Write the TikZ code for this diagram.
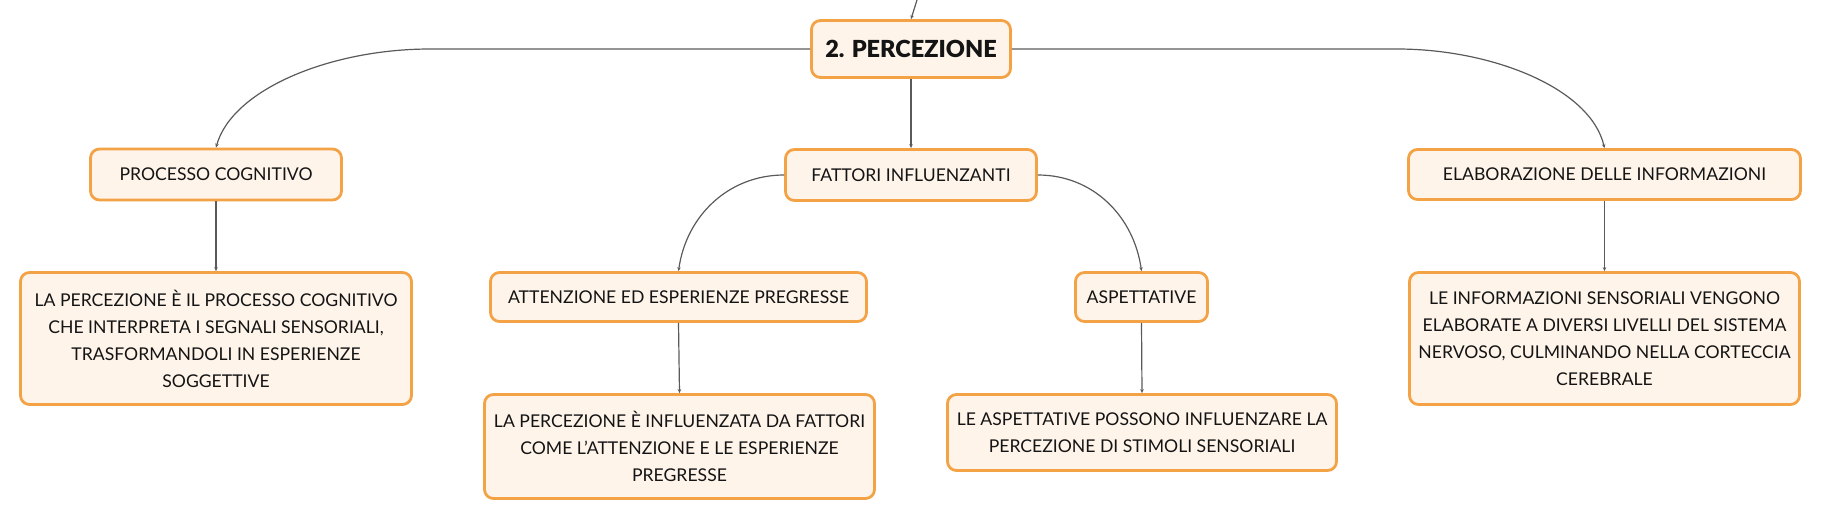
\documentclass[tikz,border=0pt]{standalone}
\usepackage{fontspec}
\setmainfont{Lato}[BoldFont={Lato Black}]
\usepackage{tikz}
\usetikzlibrary{arrows.meta}
\usetikzlibrary{positioning}
\definecolor{boxfill}{HTML}{FEF4EA}
\definecolor{boxline}{HTML}{F4A246}
\definecolor{linkgray}{HTML}{5A5A5A}

\begin{document}
\begin{tikzpicture}[x=1pt,y=1pt,
  box/.style={draw=boxline, fill=boxfill, line width=2.8pt, rounded corners=9pt, inner sep=0pt, align=center, text=black!92, font=\fontsize{17.6}{27}\selectfont},
  root/.style={box, font=\fontsize{23.5}{28}\selectfont\bfseries},
  link/.style={draw=linkgray, line width=1.2pt, -{Stealth[length=4pt,width=3.5pt]}}]
  \useasboundingbox (0,0) rectangle (1823,-520);
  % main node and branches
  \node[root, minimum width=199, minimum height=57] (perc) at (911,-49) {2. PERCEZIONE};
  \node[box, minimum width=251, minimum height=51] (proc) at (216,-174.5) {PROCESSO COGNITIVO};
  \node[box, minimum width=251, minimum height=51] (fatt) at (911,-175) {FATTORI INFLUENZANTI};
  \node[box, minimum width=392, minimum height=50] (elab) at (1604.5,-174.5) {ELABORAZIONE DELLE INFORMAZIONI};
  \node[box, minimum width=376, minimum height=49] (atte) at (678.5,-297) {ATTENZIONE ED ESPERIENZE PREGRESSE};
  \node[box, minimum width=132, minimum height=49] (aspe) at (1141.5,-297) {ASPETTATIVE};
  % descriptions
  \node[box, minimum width=391, minimum height=132] (procdesc) at (216,-338.5) {LA PERCEZIONE È IL PROCESSO COGNITIVO\\CHE INTERPRETA I SEGNALI SENSORIALI,\\TRASFORMANDOLI IN ESPERIENZE\\SOGGETTIVE};
  \node[box, minimum width=390, minimum height=104] (attedesc) at (679.5,-446.5) {LA PERCEZIONE È INFLUENZATA DA FATTORI\\COME L’ATTENZIONE E LE ESPERIENZE\\PREGRESSE};
  \node[box, minimum width=389, minimum height=76] (aspedesc) at (1142,-432.5) {LE ASPETTATIVE POSSONO INFLUENZARE LA\\PERCEZIONE DI STIMOLI SENSORIALI};
  \node[box, minimum width=390, minimum height=132] (elabdesc) at (1604.5,-338.5) {LE INFORMAZIONI SENSORIALI VENGONO\\ELABORATE A DIVERSI LIVELLI DEL SISTEMA\\NERVOSO, CULMINANDO NELLA CORTECCIA\\CEREBRALE};
  % links
  \coordinate (above) at (917,0);
  \coordinate (lbend) at (430,-49);
  \coordinate (rbend) at (1397,-49);
  \draw[link] (above) -- (perc.north);
  \draw[link] (perc.west) -- (lbend) .. controls +(-100,0) and +(16,58) .. (proc.north);
  \draw[link] (perc.east) -- (rbend) .. controls +(95,0) and +(-14,60) .. (elab.north);
  \draw[link] (perc.south) -- (fatt.north);
  \draw[link] (fatt.west) to[out=180,in=82] (atte.north);
  \draw[link] (fatt.east) to[out=0,in=98] (aspe.north);
  \draw[link] (proc.south) -- (procdesc.north);
  \draw[link] (atte.south) -- (attedesc.north);
  \draw[link] (aspe.south) -- (aspedesc.north);
  \draw[link] (elab.south) -- (elabdesc.north);
\end{tikzpicture}
\end{document}
